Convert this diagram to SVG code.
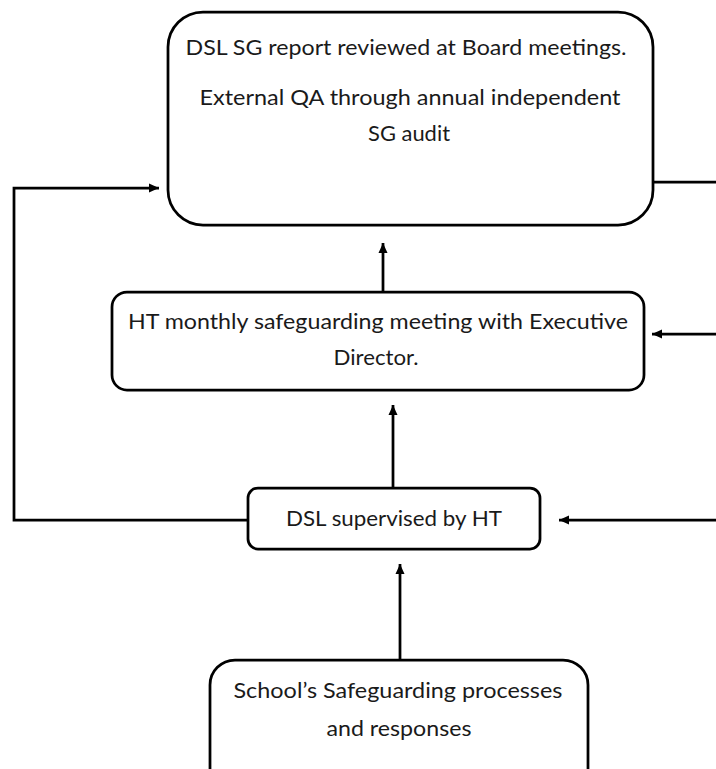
<svg xmlns="http://www.w3.org/2000/svg" width="716" height="769" viewBox="0 0 716 769">
<style>
.box{fill:#fff;stroke:#000;stroke-width:2.75}
.ln{fill:none;stroke:#000;stroke-width:2.75}
text{font-family:Lato,"Liberation Sans",sans-serif;font-size:22px;fill:#1a1a1a;text-anchor:middle}
</style>
<defs>
<marker id="ah" markerUnits="userSpaceOnUse" markerWidth="12" markerHeight="12" viewBox="0 0 12 12" refX="10" refY="6" orient="auto">
<path d="M0,1.5 L10,6 L0,10.5 Z" fill="#000"/>
</marker>
</defs>
<rect width="716" height="769" fill="#fff"/>
<g id="connectors">
<path class="ln" d="M248,520 H14 V188 H159" marker-end="url(#ah)"/>
<path class="ln" d="M653,182 H716"/>
<path class="ln" d="M383,291 V243" marker-end="url(#ah)"/>
<path class="ln" d="M716,334 H652" marker-end="url(#ah)"/>
<path class="ln" d="M393,488 V405" marker-end="url(#ah)"/>
<path class="ln" d="M716,520 H559" marker-end="url(#ah)"/>
<path class="ln" d="M400,660 V564" marker-end="url(#ah)"/>
</g>
<g id="board">
<rect class="box" x="168" y="12" width="485" height="213" rx="35"/>
<text x="406" y="55" textLength="441" lengthAdjust="spacingAndGlyphs">DSL SG report reviewed at Board meetings.</text>
<text x="410" y="105" textLength="421" lengthAdjust="spacingAndGlyphs">External QA through annual independent</text>
<text x="409" y="141" textLength="82" lengthAdjust="spacingAndGlyphs">SG audit</text>
</g>
<g id="ht-meeting">
<rect class="box" x="112" y="292" width="532" height="98" rx="15"/>
<text x="378" y="329" textLength="500" lengthAdjust="spacingAndGlyphs">HT monthly safeguarding meeting with Executive</text>
<text x="376" y="365" textLength="85" lengthAdjust="spacingAndGlyphs">Director.</text>
</g>
<g id="dsl">
<rect class="box" x="248" y="488" width="292" height="61" rx="10"/>
<text x="394" y="526" textLength="216" lengthAdjust="spacingAndGlyphs">DSL supervised by HT</text>
</g>
<g id="school">
<rect class="box" x="210" y="660" width="378" height="140" rx="25"/>
<text x="398" y="698" textLength="329" lengthAdjust="spacingAndGlyphs">School’s Safeguarding processes</text>
<text x="399" y="736" textLength="145" lengthAdjust="spacingAndGlyphs">and responses</text>
</g>
</svg>
